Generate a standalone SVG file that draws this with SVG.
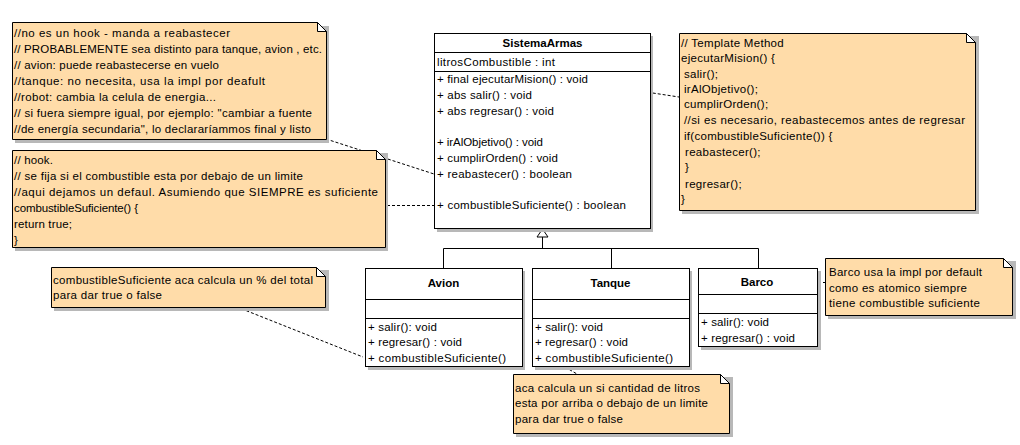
<svg xmlns="http://www.w3.org/2000/svg" width="1020" height="445" viewBox="0 0 1020 445">
<style>
text{font-family:"Liberation Sans",Arial,sans-serif;font-size:11.5px;fill:#000}
.t{font-weight:bold;font-size:11.5px;text-anchor:middle}
.ls{letter-spacing:0.3px}
.box{fill:#fff;stroke:#000;stroke-width:1}
.sh{fill:#b8b8b8}
.note{fill:#ffdca9;stroke:#000;stroke-width:1}
.fold{fill:#fff;stroke:#000;stroke-width:1}
.ln{stroke:#000;stroke-width:1;fill:none}
.dash{stroke:#000;stroke-width:1;fill:none;stroke-dasharray:3,2}
</style>
<rect width="1020" height="445" fill="#fff"/>

<g id="connectors">
<path class="ln" d="M542.5 237 V248.5 M443.5 248.5 H758.5 M443.5 248.5 V268 M611.5 248.5 V268 M758.5 248.5 V268"/>
<path d="M542.5 229 L537 237 H548 Z" fill="#fff" stroke="#000"/>
<path class="dash" d="M326 139 L434 174"/>
<path class="dash" d="M387 205.5 H434"/>
<path class="dash" d="M633 90 L679 97"/>
<path class="dash" d="M237 307 L363 357"/>
<path class="dash" d="M565 367 L577 374"/>
<path class="dash" d="M788 282.5 H825"/>
</g>

<g id="note-reabastecer">
<rect class="sh" x="15" y="26" width="314" height="117"/>
<path class="note" d="M12.5 22.5 H317.5 L326.5 31.5 V139.5 H12.5 Z"/>
<path class="fold" d="M317.5 22.5 V31.5 H326.5 Z"/>
<text x="14" y="37" textLength="216" lengthAdjust="spacing">//no es un hook - manda a reabastecer</text>
<text x="14" y="53" textLength="308" lengthAdjust="spacing">// PROBABLEMENTE sea distinto para tanque, avion , etc.</text>
<text x="14" y="69" textLength="205" lengthAdjust="spacing">// avion: puede reabastecerse en vuelo</text>
<text x="14" y="85" textLength="251" lengthAdjust="spacing">//tanque: no necesita, usa la impl por deafult</text>
<text x="14" y="101" textLength="202" lengthAdjust="spacing">//robot: cambia la celula de energia...</text>
<text x="14" y="117" textLength="298" lengthAdjust="spacing">// si fuera siempre igual, por ejemplo: "cambiar a fuente</text>
<text x="14" y="133" textLength="297" lengthAdjust="spacing">//de energía secundaria", lo declararíammos final y listo</text>
</g>

<g id="note-hook">
<rect class="sh" x="15" y="153" width="373" height="98"/>
<path class="note" d="M12.5 150.5 H376.5 L385.5 159.5 V247.5 H12.5 Z"/>
<path class="fold" d="M376.5 150.5 V159.5 H385.5 Z"/>
<text x="14" y="164" textLength="39" lengthAdjust="spacing">// hook.</text>
<text x="14" y="180" textLength="289" lengthAdjust="spacing">// se fija si el combustible esta por debajo de un limite</text>
<text x="14" y="196" textLength="364" lengthAdjust="spacing">//aqui dejamos un defaul. Asumiendo que SIEMPRE es suficiente</text>
<text x="14" y="212" textLength="124" lengthAdjust="spacing">combustibleSuficiente() {</text>
<text x="14" y="228" textLength="58" lengthAdjust="spacing">return true;</text>
<text x="14" y="244">}</text>
</g>

<g id="SistemaArmas">
<rect class="sh" x="437" y="36" width="216" height="196"/>
<rect class="box" x="434.5" y="33.5" width="216" height="195"/>
<path class="ln" d="M434.5 52.5 H650.5 M434.5 71.5 H650.5"/>
<text class="t" x="542.5" y="47">SistemaArmas</text>
<text x="437" y="66" textLength="118" lengthAdjust="spacing">litrosCombustible : int</text>
<text x="437" y="83" textLength="151" lengthAdjust="spacing">+ final ejecutarMision() : void</text>
<text x="437" y="99" textLength="95" lengthAdjust="spacing">+ abs salir() : void</text>
<text x="437" y="115" textLength="117" lengthAdjust="spacing">+ abs regresar() : void</text>
<text x="437" y="146" textLength="106" lengthAdjust="spacing">+ irAlObjetivo() : void</text>
<text x="437" y="162" textLength="121" lengthAdjust="spacing">+ cumplirOrden() : void</text>
<text x="437" y="178" textLength="135" lengthAdjust="spacing">+ reabastecer() : boolean</text>
<text x="437" y="209" textLength="189" lengthAdjust="spacing">+ combustibleSuficiente() : boolean</text>
</g>

<g id="note-template">
<rect class="sh" x="682" y="36" width="297" height="178"/>
<path class="note" d="M679.5 33.5 H966.5 L975.5 42.5 V210.5 H679.5 Z"/>
<path class="fold" d="M966.5 33.5 V42.5 H975.5 Z"/>
<text class="ls" x="681" y="47">// Template Method</text>
<text class="ls" x="681" y="62">ejecutarMision() {</text>
<text class="ls" x="684" y="78">salir();</text>
<text class="ls" x="684" y="93">irAlObjetivo();</text>
<text class="ls" x="684" y="108">cumplirOrden();</text>
<text x="684" y="124" textLength="281" lengthAdjust="spacing">//si es necesario, reabastecemos antes de regresar</text>
<text class="ls" x="684" y="140">if(combustibleSuficiente()) {</text>
<text class="ls" x="685" y="156">reabastecer();</text>
<text class="ls" x="685" y="171">}</text>
<text class="ls" x="685" y="188">regresar();</text>
<text x="681" y="203">}</text>
</g>

<g id="Avion">
<rect class="sh" x="368" y="271" width="157" height="99"/>
<rect class="box" x="365.5" y="268.5" width="157" height="98"/>
<path class="ln" d="M365.5 299.5 H522.5 M365.5 318.5 H522.5"/>
<text class="t" x="443.5" y="287">Avion</text>
<text x="368" y="331" textLength="69" lengthAdjust="spacing">+ salir(): void</text>
<text x="368" y="346" textLength="94" lengthAdjust="spacing">+ regresar() : void</text>
<text x="368" y="362" textLength="138" lengthAdjust="spacing">+ combustibleSuficiente()</text>
</g>

<g id="Tanque">
<rect class="sh" x="535" y="271" width="157" height="99"/>
<rect class="box" x="532.5" y="268.5" width="157" height="98"/>
<path class="ln" d="M532.5 299.5 H689.5 M532.5 318.5 H689.5"/>
<text class="t" x="610.5" y="287">Tanque</text>
<text x="535" y="331" textLength="68" lengthAdjust="spacing">+ salir(): void</text>
<text x="535" y="346" textLength="93" lengthAdjust="spacing">+ regresar() : void</text>
<text x="535" y="362" textLength="138" lengthAdjust="spacing">+ combustibleSuficiente()</text>
</g>

<g id="Barco">
<rect class="sh" x="701" y="271" width="120" height="79"/>
<rect class="box" x="698.5" y="268.5" width="119" height="78"/>
<path class="ln" d="M698.5 294.5 H817.5 M698.5 313.5 H817.5"/>
<text class="t" x="757" y="286">Barco</text>
<text x="701" y="326" textLength="68" lengthAdjust="spacing">+ salir(): void</text>
<text x="701" y="342" textLength="94" lengthAdjust="spacing">+ regresar() : void</text>
</g>

<g id="note-barco">
<rect class="sh" x="828" y="261" width="188" height="58"/>
<path class="note" d="M825.5 258.5 H1003.5 L1012.5 267.5 V315.5 H825.5 Z"/>
<path class="fold" d="M1003.5 258.5 V267.5 H1012.5 Z"/>
<text x="829" y="276" textLength="153" lengthAdjust="spacing">Barco usa la impl por default</text>
<text x="829" y="292" textLength="138" lengthAdjust="spacing">como es atomico siempre</text>
<text x="829" y="307" textLength="151" lengthAdjust="spacing">tiene combustible suficiente</text>
</g>

<g id="note-avion">
<rect class="sh" x="54" y="270" width="275" height="41"/>
<path class="note" d="M51.5 267.5 H316.5 L325.5 276.5 V307.5 H51.5 Z"/>
<path class="fold" d="M316.5 267.5 V276.5 H325.5 Z"/>
<text x="53" y="284" textLength="260" lengthAdjust="spacing">combustibleSuficiente aca calcula un % del total</text>
<text x="53" y="299" textLength="109" lengthAdjust="spacing">para dar true o false</text>
</g>

<g id="note-tanque">
<rect class="sh" x="516" y="377" width="217" height="60"/>
<path class="note" d="M513.5 374.5 H720.5 L729.5 383.5 V433.5 H513.5 Z"/>
<path class="fold" d="M720.5 374.5 V383.5 H729.5 Z"/>
<text x="515" y="392" textLength="185" lengthAdjust="spacing">aca calcula un si cantidad de litros</text>
<text x="515" y="407" textLength="193" lengthAdjust="spacing">esta por arriba o debajo de un limite</text>
<text x="515" y="423" textLength="108" lengthAdjust="spacing">para dar true o false</text>
</g>
</svg>
